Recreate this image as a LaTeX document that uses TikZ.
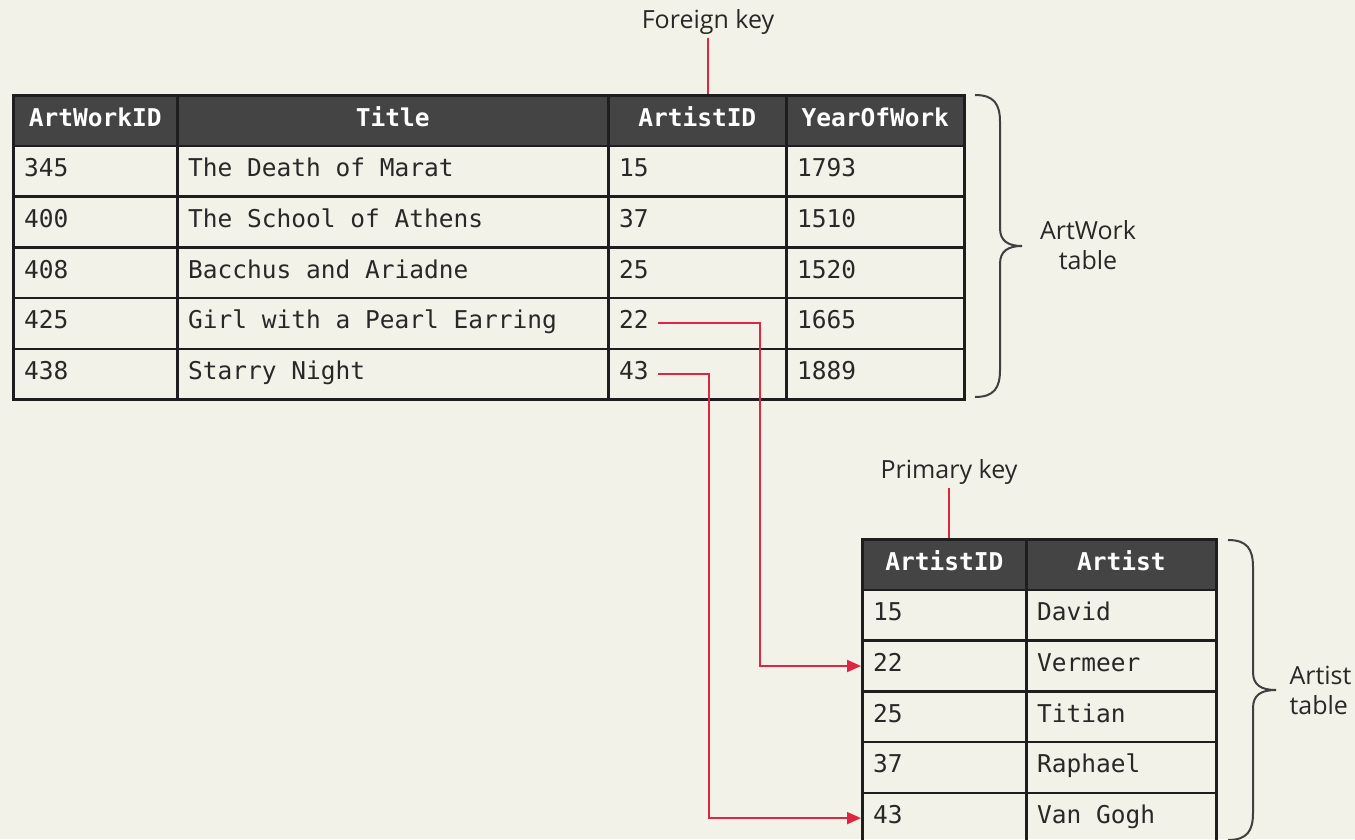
\documentclass[tikz,border=0pt]{standalone}
\usepackage{fontspec}
\setmainfont{Open Sans}
\setmonofont{DejaVu Sans Mono}
\usetikzlibrary{arrows.meta}
\definecolor{paper}{RGB}{243,242,232}
\definecolor{headgray}{RGB}{68,68,68}
\definecolor{linkred}{RGB}{220,38,66}
\definecolor{rule}{RGB}{30,30,30}
\definecolor{ink}{RGB}{40,40,40}

\begin{document}
\begin{tikzpicture}[x=1pt,y=-1pt,
  cell/.style={draw=rule, line width=2.5pt, minimum height=50.7pt, inner sep=0pt, anchor=north west},
  headcell/.style={cell, fill=headgray},
  headtext/.style={font=\fontsize{24.5}{25}\ttfamily\bfseries, text=white, inner sep=0pt, text height=1.1em, text depth=0pt},
  celltext/.style={font=\fontsize{24.5}{25}\ttfamily, text=ink, inner sep=0pt, anchor=west, text height=1.1em, text depth=0pt},
  keylabel/.style={font=\fontsize{25}{30}\selectfont, text=ink, align=center},
  link/.style={draw=linkred, line width=2pt},
  linkarrow/.style={link, -{Triangle[length=14pt,width=12pt]}},
  bracestroke/.style={draw=black!75, line width=2pt}
]
% page
\fill[paper] (0,0) rectangle (1355,839);
\useasboundingbox (0,0) rectangle (1355,839);

% ---------- ArtWork table ----------
\foreach \c/\x/\w/\h in {1/12/164/ArtWorkID, 2/176/431/Title, 3/607/178/ArtistID, 4/785/178/YearOfWork} {
  \node[headcell, minimum width=\w pt] (A-0-\c) at (\x,94) {};
  \node[headtext] (A-0-\c-t) at (A-0-\c) {\h};
}
\foreach \r/\a/\b/\k/\d in {1/345/The Death of Marat/15/1793,
                           2/400/The School of Athens/37/1510,
                           3/408/Bacchus and Ariadne/25/1520,
                           4/425/Girl with a Pearl Earring/22/1665,
                           5/438/Starry Night/43/1889} {
  \pgfmathsetmacro\y{94+50.7*\r}
  \node[cell, minimum width=164pt] (A-\r-1) at (12,\y) {};
  \node[cell, minimum width=431pt] (A-\r-2) at (176,\y) {};
  \node[cell, minimum width=178pt] (A-\r-3) at (607,\y) {};
  \node[cell, minimum width=178pt] (A-\r-4) at (785,\y) {};
  \node[celltext] (A-\r-1-t) at ([xshift=12pt]A-\r-1.west) {\a};
  \node[celltext] (A-\r-2-t) at ([xshift=12pt]A-\r-2.west) {\b};
  \node[celltext] (A-\r-3-t) at ([xshift=12pt]A-\r-3.west) {\k};
  \node[celltext] (A-\r-4-t) at ([xshift=12pt]A-\r-4.west) {\d};
}

% ---------- Artist table ----------
\foreach \c/\x/\w/\h in {1/861/164/ArtistID, 2/1025/190/Artist} {
  \node[headcell, minimum width=\w pt] (B-0-\c) at (\x,538) {};
  \node[headtext] (B-0-\c-t) at (B-0-\c) {\h};
}
\foreach \r/\k/\n in {1/15/David, 2/22/Vermeer, 3/25/Titian, 4/37/Raphael, 5/43/Van Gogh} {
  \pgfmathsetmacro\y{538+50.7*\r}
  \node[cell, minimum width=164pt] (B-\r-1) at (861,\y) {};
  \node[cell, minimum width=190pt] (B-\r-2) at (1025,\y) {};
  \node[celltext] (B-\r-1-t) at ([xshift=12pt]B-\r-1.west) {\k};
  \node[celltext] (B-\r-2-t) at ([xshift=12pt]B-\r-2.west) {\n};
}

% ---------- key labels ----------
\node[keylabel] (fk) at (708,22) {Foreign key};
\draw[link] (fk.south) -- (fk.south |- A-0-3.north);
\node[keylabel] (pk) at (949,472) {Primary key};
\draw[link] (pk.south) -- (pk.south |- B-0-1.north);

% ---------- braces ----------
\draw[bracestroke] (975,95) .. controls (994,95) and (1000,104) .. (1000,122)
  -- (1000,228) .. controls (1000,241) and (1008,246) .. (1022,246)
  .. controls (1008,246) and (1000,251) .. (1000,264)
  -- (1000,370) .. controls (1000,388) and (994,397) .. (975,397);
\node[keylabel] (awlabel) at (1088,245) {ArtWork\\table};

\draw[bracestroke] (1228,540) .. controls (1247,540) and (1253,549) .. (1253,567)
  -- (1253,672) .. controls (1253,685) and (1261,690) .. (1276,690)
  .. controls (1261,690) and (1253,695) .. (1253,708)
  -- (1253,813) .. controls (1253,831) and (1247,840) .. (1228,840);
\node[keylabel, anchor=west, align=left] (arlabel) at (1286,690) {Artist\\table};

% ---------- foreign key references ----------
\draw[linkarrow] ([xshift=9pt]A-4-3-t.east) -- ++(102pt,0) |- (B-2-1.west);
\draw[linkarrow] ([xshift=9pt]A-5-3-t.east) -- ++(51pt,0) |- (B-5-1.west);
\end{tikzpicture}
\end{document}
